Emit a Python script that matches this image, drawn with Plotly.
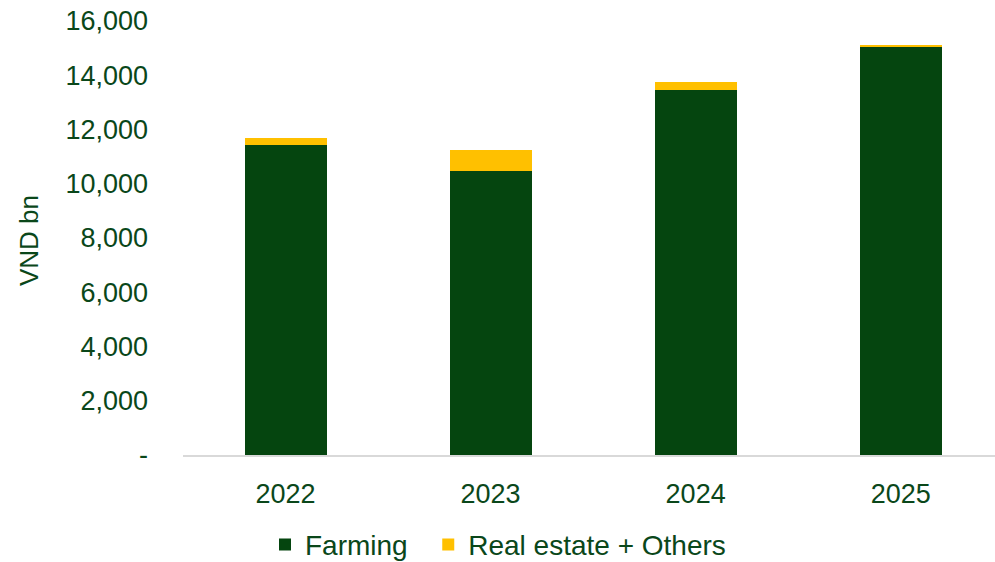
import plotly.graph_objects as go

# Revenue breakdown by segment, VND bn
years = ["2022", "2023", "2024", "2025"]
farming = [11430, 10460, 13445, 15065]
real_estate_others = [245, 785, 295, 50]

y_tick_values = [0, 2000, 4000, 6000, 8000, 10000, 12000, 14000, 16000]
y_tick_labels = ["-", "2,000", "4,000", "6,000", "8,000", "10,000", "12,000", "14,000", "16,000"]

GREEN = "#05450F"
YELLOW = "#FFC000"
TEXT = "#0A471A"
FONT = "Liberation Sans, Arial, sans-serif"
PAD = "\u00a0" * 2  # extra room between legend entries

fig = go.Figure()
fig.add_trace(go.Bar(x=years, y=farming, name="Farming" + PAD,
                     marker=dict(color=GREEN, line=dict(width=0)), width=0.4))
fig.add_trace(go.Bar(x=years, y=real_estate_others, name="Real estate + Others",
                     marker=dict(color=YELLOW, line=dict(width=0)), width=0.4))

L, T, W, H = 183, 21, 812, 434
fig.update_layout(
    barmode="stack",
    width=995, height=562,
    margin=dict(l=L, r=995 - L - W, t=T, b=562 - T - H, autoexpand=False),
    paper_bgcolor="white", plot_bgcolor="white",
    font=dict(family=FONT, color=TEXT),
    showlegend=True,
    legend=dict(orientation="h", x=(265 - L) / W, xanchor="left", y=-0.207, yanchor="middle",
                font=dict(size=28, color=TEXT), itemwidth=30, traceorder="normal",
                bgcolor="rgba(0,0,0,0)"),
    xaxis=dict(type="category", range=[-0.5, 3.46], showgrid=False,
               showline=True, linecolor="#D9D9D9", linewidth=2,
               ticks="", tickfont=dict(size=27, color=TEXT), ticklabelstandoff=14),
    yaxis=dict(range=[0, 16000], tickvals=y_tick_values, ticktext=y_tick_labels,
               showgrid=False, zeroline=False, showline=False, ticks="",
               tickfont=dict(size=27, color=TEXT), ticklabelstandoff=34),
    annotations=[dict(text="VND bn", xref="paper", yref="paper",
                      x=(29 - L) / W, y=(455 - 241) / H, xanchor="center", yanchor="middle",
                      textangle=-90, showarrow=False, font=dict(size=26, color=TEXT))],
)

fig.write_html("out.html")
